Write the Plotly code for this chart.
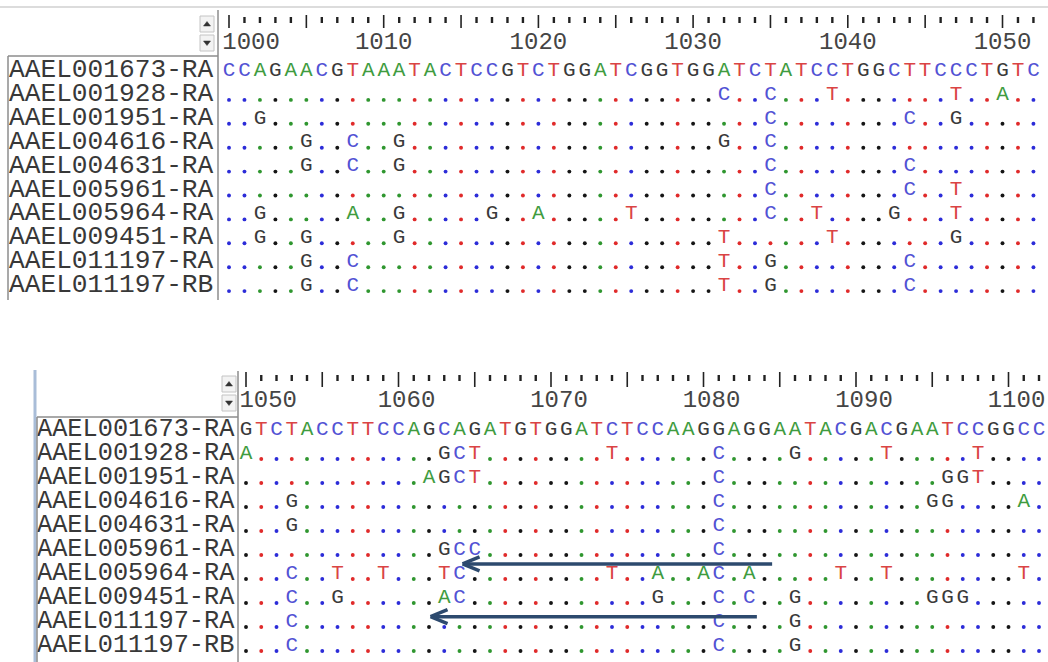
import plotly.graph_objects as go

# ---------------- data ----------------
NAMES = ["AAEL001673-RA", "AAEL001928-RA", "AAEL001951-RA", "AAEL004616-RA",
         "AAEL004631-RA", "AAEL005961-RA", "AAEL005964-RA", "AAEL009451-RA",
         "AAEL011197-RA", "AAEL011197-RB"]

TOP_START = 1000
TOP_REF = "CCAGAACGTAAATACTCCGTCTGGATCGGTGGATCTATCCTGGCTTCCCTGTC"
TOP_SUBS = [
    {},
    {32: "C", 35: "C", 39: "T", 47: "T", 50: "A"},
    {2: "G", 35: "C", 44: "C", 47: "G"},
    {5: "G", 8: "C", 11: "G", 32: "G", 35: "C"},
    {5: "G", 8: "C", 11: "G", 35: "C", 44: "C"},
    {35: "C", 44: "C", 47: "T"},
    {2: "G", 8: "A", 11: "G", 17: "G", 20: "A", 26: "T", 35: "C", 38: "T", 43: "G", 47: "T"},
    {2: "G", 5: "G", 11: "G", 32: "T", 39: "T", 47: "G"},
    {5: "G", 8: "C", 32: "T", 35: "G", 44: "C"},
    {5: "G", 8: "C", 32: "T", 35: "G", 44: "C"},
]

BOT_START = 1050
BOT_REF = "GTCTACCTTCCAGCAGATGTGGATCTCCAAGGAGGAATACGACGAATCCGGCCC"
BOT_SUBS = [
    {},
    {0: "A", 13: "G", 14: "C", 15: "T", 24: "T", 31: "C", 36: "G", 42: "T", 48: "T"},
    {12: "A", 13: "G", 14: "C", 15: "T", 31: "C", 46: "G", 47: "G", 48: "T"},
    {3: "G", 31: "C", 45: "G", 46: "G", 51: "A"},
    {3: "G", 31: "C"},
    {13: "G", 14: "C", 15: "C", 31: "C"},
    {3: "C", 6: "T", 9: "T", 13: "T", 14: "C", 24: "T", 27: "A", 30: "A", 31: "C",
     33: "A", 39: "T", 42: "T", 51: "T"},
    {3: "C", 6: "G", 13: "A", 14: "C", 27: "G", 31: "C", 33: "C", 36: "G",
     45: "G", 46: "G", 47: "G"},
    {3: "C", 31: "C", 36: "G"},
    {3: "C", 31: "C", 36: "G"},
]

# arrows in the lower panel: (tail column, tip column, row position)
ARROWS = [(34.5, 14.2, 5.6), (33.5, 12.1, 7.8)]

# ---------------- styles / layout ----------------
W, H = 1048, 662
FONT = "Liberation Mono, Courier New, monospace"
SEQ_SIZE = 21
BASE_COLORS = {"A": "#3f9c3f", "C": "#5252d4", "G": "#3a3a3a", "T": "#da4444"}
DOT_COLORS = {"A": "#2f962f", "C": "#2c2cd8", "G": "#151515", "T": "#e02a2a"}
ARROW_COLOR = "#2d4a6e"
BORDER = "#8c8c8c"

PANELS = [
    dict(start=TOP_START, ref=TOP_REF, subs=TOP_SUBS, x0=229.0, dx=15.47,
         y0=70.5, dy=23.9, name_x=9, name_size=26.2,
         maj=(15, 28), mnr=(17, 23), num_y=43, num_dx=0,
         sep_x=218, sep_top=10, box_top=56, box_left=8, bottom=300,
         btn_x=207, btn_up=24, btn_dn=43),
    dict(start=BOT_START, ref=BOT_REF, subs=BOT_SUBS, x0=246.0, dx=15.25,
         y0=429.5, dy=24.0, name_x=37, name_size=25.3,
         maj=(372, 387), mnr=(375, 381), num_y=401, num_dx=8,
         sep_x=238, sep_top=371, box_top=417, box_left=37, bottom=662,
         btn_x=229, btn_up=384, btn_dn=403),
]

fig = go.Figure()
shapes = []

# window top edge
shapes.append(dict(type="line", x0=0, x1=W, y0=7, y1=7,
                   line=dict(color="#dcdcdc", width=2)))
# bluish frame line of lower screenshot
shapes.append(dict(type="line", x0=35, x1=35, y0=370, y1=H,
                   line=dict(color="#a9bdd8", width=3)))

for p in PANELS:
    colx = lambda k, p=p: p["x0"] + p["dx"] * k
    rowy = lambda i, p=p: p["y0"] + p["dy"] * i
    ncol = len(p["ref"])

    # frame lines
    shapes.append(dict(type="line", x0=p["sep_x"], x1=p["sep_x"], y0=p["sep_top"], y1=p["bottom"],
                       line=dict(color=BORDER, width=1.5)))
    shapes.append(dict(type="line", x0=p["box_left"], x1=p["sep_x"], y0=p["box_top"], y1=p["box_top"],
                       line=dict(color=BORDER, width=1.5)))
    shapes.append(dict(type="line", x0=p["box_left"], x1=p["box_left"], y0=p["box_top"], y1=p["bottom"],
                       line=dict(color=BORDER, width=1.5)))
    # scroll buttons
    bx = p["btn_x"]
    for yc, up in ((p["btn_up"], True), (p["btn_dn"], False)):
        shapes.append(dict(type="rect", x0=bx - 7, x1=bx + 7, y0=yc - 8, y1=yc + 8,
                           line=dict(color="#c4c4c4", width=1), fillcolor="#f3f3f3"))
        if up:
            path = f"M {bx-3.5},{yc+2} L {bx+3.5},{yc+2} L {bx},{yc-2.5} Z"
        else:
            path = f"M {bx-3.5},{yc-2} L {bx+3.5},{yc-2} L {bx},{yc+2.5} Z"
        shapes.append(dict(type="path", path=path, fillcolor="#333333",
                           line=dict(color="#333333", width=0.5)))

    # ruler ticks
    mx, my, nx, ny = [], [], [], []
    for k in range(ncol):
        x = colx(k)
        if (p["start"] + k) % 5 == 0:
            mx += [x, x, None]; my += [p["maj"][0], p["maj"][1], None]
        else:
            nx += [x, x, None]; ny += [p["mnr"][0], p["mnr"][1], None]
    fig.add_trace(go.Scatter(x=mx, y=my, mode="lines", line=dict(color="#222", width=1.6),
                             hoverinfo="skip", showlegend=False))
    fig.add_trace(go.Scatter(x=nx, y=ny, mode="lines", line=dict(color="#222", width=2.4),
                             hoverinfo="skip", showlegend=False))

    # ruler numbers
    for k in range(0, ncol, 10):
        pos = p["start"] + k
        if k == 0:
            fig.add_trace(go.Scatter(x=[colx(0) - p["dx"] / 2 + 1], y=[p["num_y"]], mode="text",
                                     text=[str(pos)], textposition="middle right",
                                     textfont=dict(family=FONT, size=24, color="#454545"),
                                     hoverinfo="skip", showlegend=False))
        else:
            fig.add_trace(go.Scatter(x=[colx(k) + p["num_dx"]], y=[p["num_y"]], mode="text",
                                     text=[str(pos)], textposition="middle center",
                                     textfont=dict(family=FONT, size=24, color="#454545"),
                                     hoverinfo="skip", showlegend=False))

    # row names
    fig.add_trace(go.Scatter(x=[p["name_x"]] * len(NAMES), y=[rowy(i) for i in range(len(NAMES))],
                             mode="text", text=NAMES, textposition="middle right",
                             textfont=dict(family=FONT, size=p["name_size"], color="#383838"),
                             hoverinfo="skip", showlegend=False, cliponaxis=False))

    # alignment body
    lx, ly, lt, lc = [], [], [], []
    dx_, dy_, dc = [], [], []
    for i, subs in enumerate(p["subs"]):
        for k, rb in enumerate(p["ref"]):
            if i == 0:
                lx.append(colx(k)); ly.append(rowy(i)); lt.append(rb); lc.append(BASE_COLORS[rb])
            elif k in subs:
                b = subs[k]
                lx.append(colx(k)); ly.append(rowy(i)); lt.append(b); lc.append(BASE_COLORS[b])
            else:
                dx_.append(colx(k)); dy_.append(rowy(i) + 5.5); dc.append(DOT_COLORS[rb])
    fig.add_trace(go.Scatter(x=dx_, y=dy_, mode="markers",
                             marker=dict(symbol="circle", size=3.9, color=dc, line=dict(width=0)),
                             hoverinfo="skip", showlegend=False))
    fig.add_trace(go.Scatter(x=lx, y=ly, mode="text", text=lt, textposition="middle center",
                             textfont=dict(family=FONT, size=SEQ_SIZE, color=lc),
                             hoverinfo="skip", showlegend=False))

# arrows (lower panel)
p = PANELS[1]
for tail, tip, rpos in ARROWS:
    xt = p["x0"] + p["dx"] * tail
    xh = p["x0"] + p["dx"] * tip
    y = p["y0"] + p["dy"] * rpos
    shapes.append(dict(type="line", x0=xt, x1=xh + 2, y0=y, y1=y,
                       line=dict(color=ARROW_COLOR, width=3.5)))
    shapes.append(dict(type="line", x0=xh, x1=xh + 17, y0=y, y1=y - 7,
                       line=dict(color=ARROW_COLOR, width=3.5)))
    shapes.append(dict(type="line", x0=xh, x1=xh + 17, y0=y, y1=y + 7,
                       line=dict(color=ARROW_COLOR, width=3.5)))

fig.update_layout(
    width=W, height=H, margin=dict(l=0, r=0, t=0, b=0),
    paper_bgcolor="white", plot_bgcolor="white",
    xaxis=dict(range=[0, W], visible=False, fixedrange=True),
    yaxis=dict(range=[H, 0], visible=False, fixedrange=True),
    shapes=shapes, showlegend=False,
)
fig.write_html("out.html")
